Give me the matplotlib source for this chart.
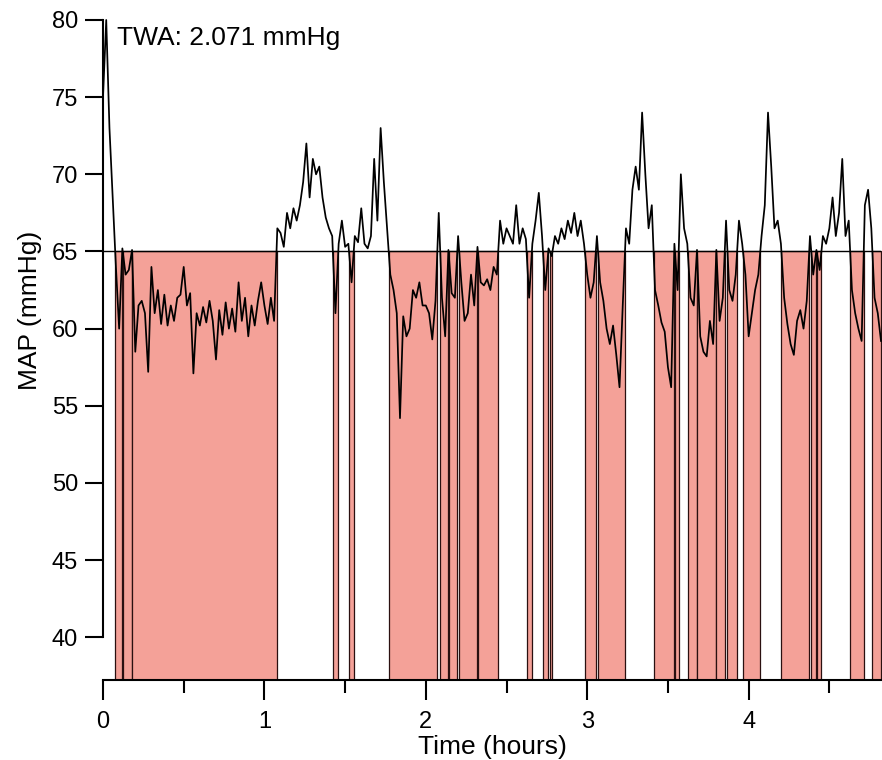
import numpy as np
import matplotlib
matplotlib.use("Agg")
import matplotlib.pyplot as plt

plt.rcParams['font.family'] = ['Liberation Sans', 'DejaVu Sans']

# MAP samples, one every 0.02 h
map_hour0 = [75, 80, 73, 68.5, 64, 60, 65.2, 63.5, 63.8, 65.1,
             58.5, 61.5, 61.8, 61, 57.2, 64, 61, 62.5, 60.3, 62.2,
             60.2, 61.5, 60.5, 62, 62.2, 64, 61.5, 62.3, 57.1, 61,
             60.2, 61.4, 60.4, 61.8, 60.5, 58, 61.2, 59.6, 61.7, 60,
             61.3, 59.8, 63, 60.5, 62, 59.5, 61.5, 60.2, 61.8, 63]
map_hour1 = [61.5, 60.3, 62, 60.5, 66.5, 66.2, 65.3, 67.5, 66.5, 67.8,
             67, 68, 69.5, 72, 68.5, 71, 70, 70.5, 68.5, 67.2,
             66.5, 66, 61, 65.5, 67, 65.3, 65.5, 63, 66, 65.6,
             67.8, 65.5, 65.2, 66, 71, 67, 73, 69.5, 66.5, 63.5,
             62.5, 61, 54.2, 60.8, 59.5, 60, 62.5, 62, 63, 61.5]
map_hour2 = [61.5, 61, 59.3, 61.8, 67.5, 62, 59.5, 65.1, 62.3, 62,
             66, 63, 60.5, 61, 63.5, 61.5, 65.3, 63, 62.8, 63.2,
             62.5, 64, 63.5, 67, 65.5, 66.5, 66, 65.5, 68, 65.5,
             66.5, 65.8, 62, 65.5, 67, 68.8, 66, 62.5, 65.2, 64.7,
             66, 65.5, 66.5, 65.8, 67, 66.2, 67.5, 66, 67, 65.5]
map_hour3 = [63.5, 62, 63, 66, 63, 61.8, 60, 59, 60.2, 58.3,
             56.2, 61.5, 66.5, 65.5, 69, 70.5, 69, 74, 70, 66.5,
             68, 62.5, 61.5, 60.4, 59.8, 57.5, 56.2, 65.5, 62.5, 70,
             66.5, 65.5, 62, 61.5, 65.1, 59.5, 58.5, 58.2, 60.5, 59,
             65.1, 60.5, 62, 67, 62.5, 61.8, 63.5, 67, 65.5, 63.5]
map_hour4 = [59.5, 61, 62.5, 63.5, 66, 68, 74, 70.5, 66.5, 67,
             65.5, 62, 60.3, 59, 58.3, 60.5, 61.2, 60, 61.8, 66,
             63.5, 65.1, 63.8, 66, 65.5, 66.5, 68.5, 66, 67.5, 71,
             66, 67, 62.5, 61, 60, 59.2, 68, 69, 66.5, 62, 61, 59.2]

threshold = 65
twa_text = "TWA: 2.071 mmHg"

map_values = np.array(map_hour0 + map_hour1 + map_hour2 + map_hour3 + map_hour4, dtype=float)
time_hours = np.arange(len(map_values)) * 0.02

y_bottom, y_top = 37.23, 80
x_right = 4.82

fig = plt.figure(figsize=(8.82, 7.6), dpi=100)
ax = fig.add_axes([103 / 882, 80 / 760, 778 / 882, 660 / 760])


def crossing(i, j):
    y0, y1 = map_values[i], map_values[j]
    t0, t1 = time_hours[i], time_hours[j]
    return t0 + (threshold - y0) * (t1 - t0) / (y1 - y0)


# shaded spans where MAP is under the threshold
below = map_values < threshold
n = len(map_values)
start = None
for i in range(n):
    if below[i] and (i == 0 or not below[i - 1]):
        start = time_hours[0] if i == 0 else crossing(i - 1, i)
    if below[i] and (i == n - 1 or not below[i + 1]):
        end = time_hours[-1] if i == n - 1 else crossing(i, i + 1)
        ax.fill_between([start, end], [y_bottom, y_bottom], [threshold, threshold],
                        facecolor='#f4a198', edgecolor='#2a1010', linewidth=0.9, zorder=1)

ax.axhline(threshold, color='black', linewidth=1.0, zorder=2)
ax.plot(time_hours, map_values, color='black', linewidth=1.25, zorder=3, clip_on=False)

ax.set_xlim(0, x_right)
ax.set_ylim(y_bottom, y_top)

ax.spines['top'].set_visible(False)
ax.spines['right'].set_visible(False)
ax.spines['left'].set_bounds(40, 80)
ax.spines['left'].set_linewidth(1.5)
ax.spines['bottom'].set_linewidth(1.5)

ax.set_yticks([40, 45, 50, 55, 60, 65, 70, 75, 80])
ax.set_xticks([0, 1, 2, 3, 4])
ax.set_xticks([0.5, 1.5, 2.5, 3.5, 4.5], minor=True)
ax.tick_params(axis='y', which='major', length=13, width=1.5, pad=5, labelsize=17)
ax.tick_params(axis='x', which='major', length=14.5, width=1.5, pad=8, labelsize=17)
ax.tick_params(axis='x', which='minor', length=9.5, width=1.5)

ax.set_xlabel("Time (hours)", fontsize=19, labelpad=1)
ax.set_ylabel("MAP (mmHg)", fontsize=19)
ax.yaxis.set_label_coords(-0.078, 0.56)

ax.text(0.087, 78.38, twa_text, fontsize=19, ha='left', va='baseline')

fig.savefig("out.png", dpi=100)
